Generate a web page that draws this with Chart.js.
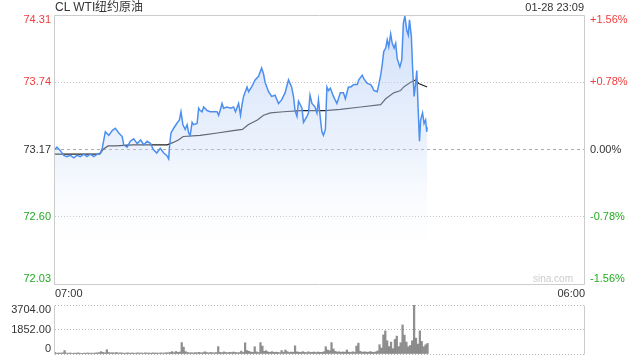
<!DOCTYPE html>
<html lang="zh-CN">
<head>
<meta charset="UTF-8">
<title>CL WTI纽约原油</title>
<script src="https://cdn.jsdelivr.net/npm/chart.js"></script>
<style>
    body { margin: 0; background: #fff; font-family: Arial, "Liberation Sans", sans-serif; }
    .wrap { position: relative; width: 640px; height: 360px; overflow: hidden; }
    .title { position: absolute; left: 55px; top: 0; font-size: 12px; line-height: 14px; color: #333; }
    .time { position: absolute; right: 56px; top: 0; font-size: 11px; line-height: 15px; color: #333; }
    .mark { position: absolute; right: 67px; top: 273px; font-size: 10px; line-height: 12px; color: #ccc; }
    #priceChart { position: absolute; left: 0; top: 0; }
    #volChart { position: absolute; left: 0; top: 290px; }
</style>
</head>
<body>
<div class="wrap">
    <canvas id="priceChart" width="640" height="300"></canvas>
    <canvas id="volChart" width="640" height="80"></canvas>
    <div class="title">CL WTI纽约原油</div>
    <div class="time">01-28 23:09</div>
    <div class="mark">sina.com</div>
</div>
<script>
// minutes since 07:00
const priceMinutes = [0,5,14,23,31,40,49,57,66,75,83,92,101,110,118,123,131,140,149,157,
    166,175,179,188,196,205,214,223,231,240,249,256,265,274,283,291,296,298,302,309,
    317,324,328,333,339,344,348,352,357,361,370,374,378,383,387,396,404,413,422,426,
    430,435,439,448,457,465,470,478,483,487,491,500,504,512,521,530,538,543,547,556,
    564,573,582,590,599,608,616,621,625,630,634,643,647,656,660,664,669,677,682,686,
    691,695,699,704,708,712,717,725,734,743,751,756,764,770,778,787,791,800,804,813,
    822,826,830,839,843,848,852,856,861,865,869,874,878,883,887,891,898,903,907,911,
    916,920,923,928,931,935,939,942,945,949,952,957,961,965,968,969];
const prices = [73.17,73.19,73.16,73.12,73.11,73.12,73.10,73.12,73.11,73.13,
    73.11,73.13,73.11,73.13,73.14,73.18,73.32,73.29,73.33,73.35,
    73.31,73.28,73.21,73.19,73.24,73.26,73.22,73.25,73.21,73.24,
    73.22,73.17,73.14,73.18,73.14,73.12,73.09,73.19,73.31,73.35,
    73.39,73.42,73.49,73.38,73.34,73.38,73.31,73.29,73.40,73.38,
    73.39,73.52,73.50,73.49,73.53,73.50,73.49,73.49,73.49,73.46,
    73.50,73.56,73.52,73.53,73.52,73.53,73.49,73.56,73.46,73.55,
    73.62,73.70,73.66,73.70,73.76,73.79,73.86,73.81,73.74,73.66,
    73.62,73.63,73.56,73.59,73.65,73.76,73.70,73.62,73.50,73.45,
    73.58,73.52,73.40,73.45,73.48,73.63,73.56,73.53,73.48,73.59,
    73.43,73.32,73.29,73.34,73.70,73.67,73.69,73.62,73.56,73.65,
    73.65,73.60,73.70,73.70,73.72,73.72,73.76,73.80,73.77,73.73,
    73.72,73.70,73.67,73.66,73.72,73.80,73.89,74.00,74.03,74.10,
    74.04,74.15,74.07,74.03,74.07,73.94,73.87,73.93,74.24,74.30,
    74.18,74.14,74.27,74.12,73.87,73.62,73.73,73.84,73.56,73.24,
    73.42,73.48,73.39,73.42,73.32,73.36];
const avgMinutes = [0,117,125,138,157,203,248,292,308,321,334,378,423,464,488,503,527,
    543,561,595,639,704,743,796,848,861,882,900,908,926,939,947,969];
const avgPrices = [73.13,73.13,73.17,73.20,73.20,73.21,73.21,73.21,73.23,73.25,73.28,
    73.29,73.31,73.33,73.34,73.38,73.42,73.46,73.48,73.49,73.50,73.50,73.51,73.53,
    73.55,73.60,73.65,73.67,73.70,73.74,73.76,73.73,73.70];
// volume, one value per 5 minutes from 07:00
const volumes = [120,60,80,70,90,260,70,60,80,50,70,60,90,60,50,70,60,80,60,70,60,80,90,100,
    180,120,90,320,110,90,100,80,120,70,90,80,60,70,90,60,80,70,60,90,70,80,60,90,70,80,
    60,90,70,80,60,90,70,80,100,90,120,
    180,100,190,120,150,860,520,180,120,90,100,80,110,90,130,90,100,170,110,90,120,100,
    90,110,560,120,100,160,110,100,130,110,150,120,100,110,
    220,120,850,260,200,150,130,550,160,120,860,600,200,250,150,130,180,120,140,130,
    100,260,140,300,180,120,150,130,620,160,140,120,180,130,110,170,120,130,150,110,
    150,130,120,170,550,300,250,860,380,200,150,170,130,160,140,300,140,120,170,140,
    600,820,200,140,160,150,130,180,150,130,160,230,700,450,1440,1750,1000,560,900,400,
    1100,1350,560,850,2200,1430,900,550,650,1000,3704,1200,750,1750,950,550,700,800];
const volStep = 5;

const prevClose = 73.17;
const priceTicks = [72.03, 72.60, 73.17, 73.74, 74.31];
const priceTickLabels = ['72.03', '72.60', '73.17', '73.74', '74.31'];
const pctTickLabels = ['-1.56%', '-0.78%', '0.00%', '+0.78%', '+1.56%'];
const volTicks = [0, 1852, 3704];
const volTickLabels = ['0', '1852.00', '3704.00'];
const xTicks = [0, 1380];
const xTickLabels = ['07:00', '06:00'];

const FONT = 'Arial, "Liberation Sans", sans-serif';
const RED = '#f03c3c', GREEN = '#22aa22', DARK = '#333';

function tickColor(v) {
    if (v > prevClose + 0.001) return RED;
    if (v < prevClose - 0.001) return GREEN;
    return DARK;
}
// keep the end labels inside the frame (like the original)
function clampLabel(text, i, n) {
    if (i === n - 1) return ['', text];
    if (i === 0) return [text, ''];
    return text;
}

const frame = {
    id: 'frame',
    afterDraw(chart, args, opts) {
        const { ctx, chartArea: a } = chart;
        const l = a.left - 0.5, r = a.right - 0.5, t = a.top + 0.5, b = a.bottom + 0.5;
        ctx.save();
        ctx.strokeStyle = '#cccccc';
        ctx.lineWidth = 1;
        ctx.beginPath();
        ctx.moveTo(l, t); ctx.lineTo(l, b);
        ctx.moveTo(r, t); ctx.lineTo(r, b);
        if (opts.full) {
            ctx.moveTo(l, t); ctx.lineTo(r, t);
            ctx.moveTo(l, b); ctx.lineTo(r, b);
        }
        ctx.stroke();
        ctx.restore();
    }
};

const yMin = priceTicks[0], yMax = priceTicks[priceTicks.length - 1];

new Chart(document.getElementById('priceChart'), {
    type: 'line',
    data: {
        datasets: [{
            data: priceMinutes.map((m, i) => ({ x: m, y: prices[i] })),
            borderColor: '#4d8ff0',
            borderWidth: 1.5,
            pointRadius: 0,
            tension: 0,
            fill: 'start',
            backgroundColor: (c) => {
                const a = c.chart.chartArea;
                if (!a) return 'rgba(200,220,250,0.4)';
                const g = c.chart.ctx.createLinearGradient(0, a.top, 0, a.bottom);
                g.addColorStop(0, 'rgba(175,202,245,0.6)');
                g.addColorStop(0.5, 'rgba(200,218,248,0.35)');
                g.addColorStop(0.92, 'rgba(255,255,255,0)');
                return g;
            }
        }, {
            data: avgMinutes.map((m, i) => ({ x: m, y: avgPrices[i] })),
            borderColor: '#222',
            borderWidth: 1.2,
            pointRadius: 0,
            tension: 0,
            fill: false
        }]
    },
    options: {
        responsive: false,
        devicePixelRatio: 1,
        animation: false,
        layout: { padding: { top: 14, bottom: 0, left: 0, right: 0 } },
        plugins: { legend: { display: false }, tooltip: { enabled: false }, frame: { full: true } },
        scales: {
            x: {
                type: 'linear', min: 0, max: 1380, offset: false,
                afterBuildTicks: s => { s.ticks = xTicks.map(v => ({ value: v })); },
                afterFit: s => { s.height = 16; },
                grid: { display: false, drawTicks: false },
                border: { display: false },
                ticks: {
                    align: 'inner', autoSkip: false, maxRotation: 0, padding: 3,
                    color: DARK, font: { family: FONT, size: 11 },
                    callback: (v, i) => xTickLabels[i]
                }
            },
            y: {
                position: 'left', min: yMin, max: yMax,
                afterBuildTicks: s => { s.ticks = priceTicks.map(v => ({ value: v })); },
                afterFit: s => { s.width = 55; },
                grid: {
                    drawTicks: false,
                    color: c => {
                        if (!c.tick) return 'rgba(0,0,0,0)';
                        const v = c.tick.value;
                        if (v === yMin || v === yMax) return 'rgba(0,0,0,0)';
                        return v === prevClose ? '#aaaaaa' : '#c4c4c4';
                    }
                },
                border: { display: false, dash: c => (c.tick && c.tick.value === prevClose) ? [3, 3] : [1, 2] },
                ticks: {
                    padding: 4, autoSkip: false,
                    font: { family: FONT, size: 11, lineHeight: '10px' },
                    color: c => tickColor(c.tick.value),
                    callback: (v, i) => clampLabel(priceTickLabels[i], i, priceTicks.length)
                }
            },
            y2: {
                position: 'right', min: yMin, max: yMax,
                afterBuildTicks: s => { s.ticks = priceTicks.map(v => ({ value: v })); },
                afterFit: s => { s.width = 55; },
                grid: { display: false, drawTicks: false },
                border: { display: false },
                ticks: {
                    padding: 5, autoSkip: false,
                    font: { family: FONT, size: 11, lineHeight: '10px' },
                    color: c => tickColor(c.tick.value),
                    callback: (v, i) => clampLabel(pctTickLabels[i], i, priceTicks.length)
                }
            }
        }
    },
    plugins: [frame]
});

const volMinutes = volumes.map((_, i) => i * volStep);

// canvas starts at page y=290, plot area spans page y 305..354
new Chart(document.getElementById('volChart'), {
    type: 'bar',
    data: {
        datasets: [{
            data: volMinutes.map((m, i) => ({ x: m, y: volumes[i] })),
            backgroundColor: 'rgba(105,105,105,0.75)',
            barThickness: 1.6,
            borderWidth: 0
        }]
    },
    options: {
        responsive: false,
        devicePixelRatio: 1,
        animation: false,
        layout: { padding: { top: 15, bottom: 16, left: 0, right: 55 } },
        plugins: { legend: { display: false }, tooltip: { enabled: false }, frame: { full: false } },
        scales: {
            x: {
                type: 'linear', min: 0, max: 1380, offset: false, display: false,
                grid: { display: false, offset: false }
            },
            y: {
                position: 'left', min: 0, max: volTicks[volTicks.length - 1],
                afterBuildTicks: s => { s.ticks = volTicks.map(v => ({ value: v })); },
                afterFit: s => { s.width = 55; },
                grid: { drawTicks: false, color: '#b8b8b8' },
                border: { display: false, dash: [1, 2] },
                ticks: {
                    padding: 4, autoSkip: false,
                    color: DARK,
                    font: { family: FONT, size: 11, lineHeight: '10px' },
                    callback: (v, i) => clampLabel(volTickLabels[i], i, volTicks.length)
                }
            }
        }
    },
    plugins: [frame]
});
</script>
</body>
</html>
